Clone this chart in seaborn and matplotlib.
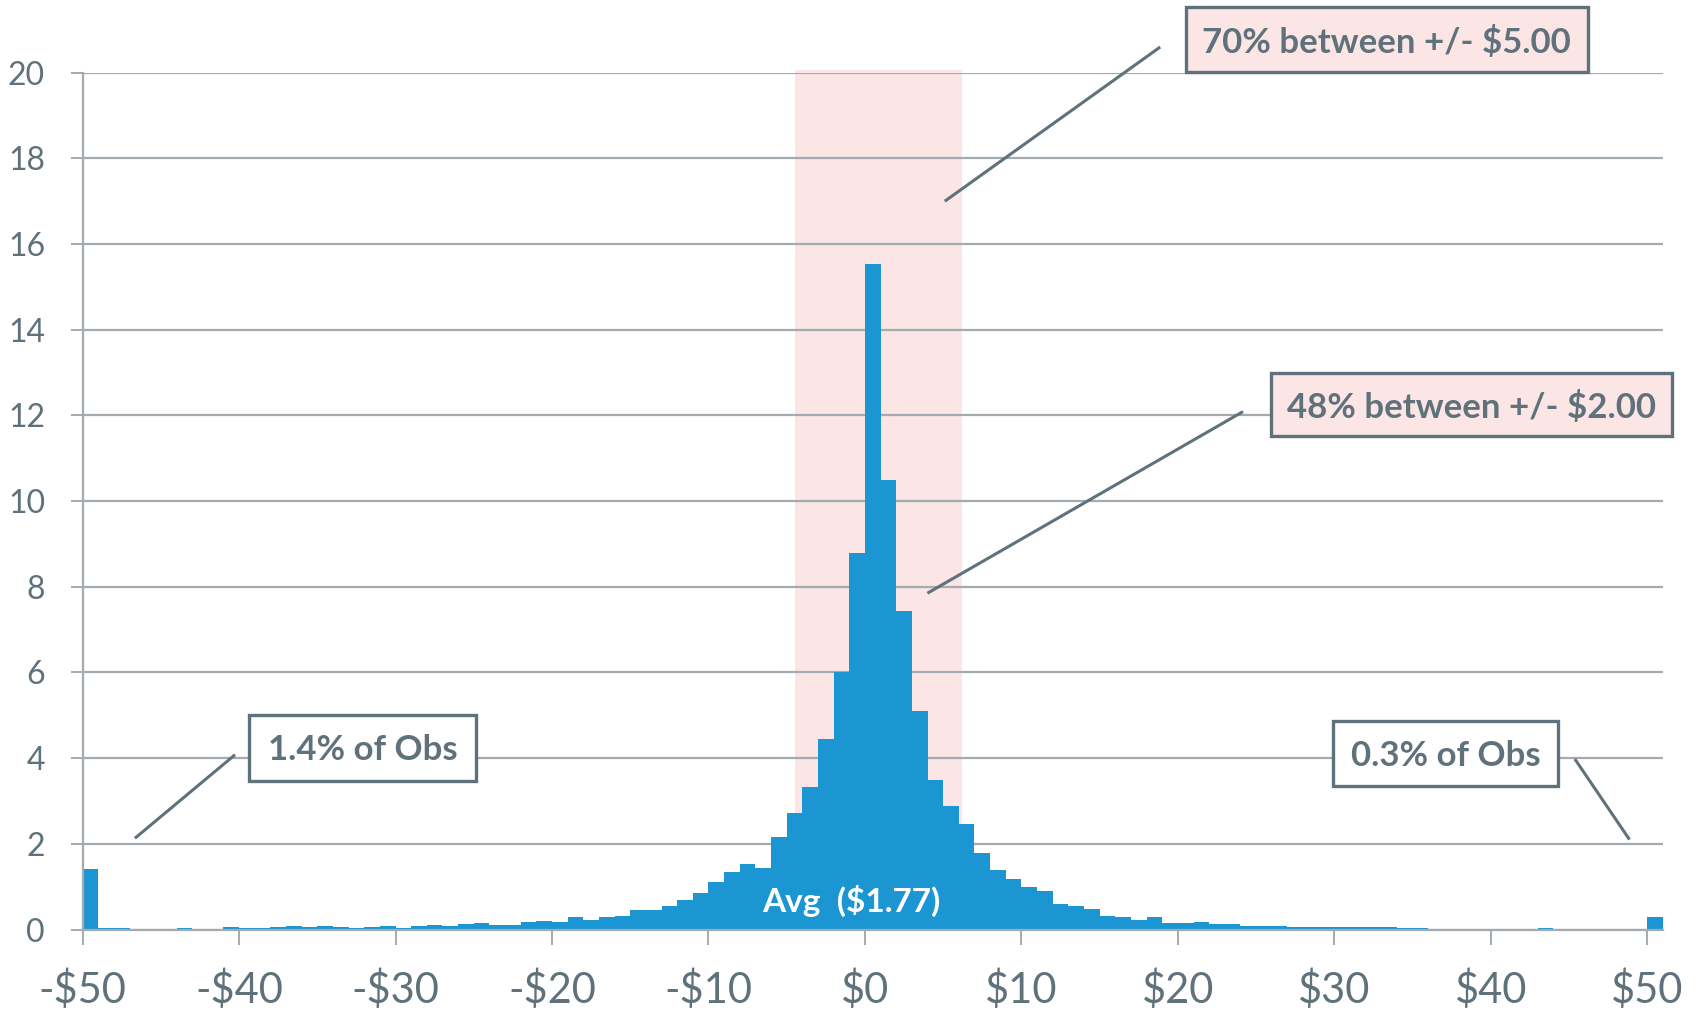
import numpy as np
import pandas as pd
import matplotlib
matplotlib.use("Agg")
import matplotlib.pyplot as plt
from matplotlib.patches import Rectangle
import seaborn as sns

# Share of observations (%) per $1 bin, bins start at -$50 ... $50
bin_starts = list(range(-50, 51))
pct_obs = [
    1.41, 0.04, 0.04, 0.02, 0.01, 0.02, 0.04, 0.01, 0.02, 0.06,   # -50 .. -41
    0.04, 0.04, 0.06, 0.08, 0.07, 0.08, 0.06, 0.04, 0.06, 0.08,   # -40 .. -31
    0.04, 0.08, 0.11, 0.09, 0.12, 0.16, 0.11, 0.10, 0.18, 0.20,   # -30 .. -21
    0.18, 0.29, 0.23, 0.29, 0.31, 0.46, 0.46, 0.55, 0.69, 0.85,   # -20 .. -11
    1.12, 1.34, 1.52, 1.44, 2.15, 2.71, 3.32, 4.45, 6.00, 8.80,   # -10 .. -1
    15.54, 10.49, 7.44, 5.11, 3.48, 2.89, 2.47, 1.79, 1.40, 1.17, # 0 .. 9
    0.99, 0.89, 0.60, 0.54, 0.48, 0.32, 0.30, 0.23, 0.30, 0.16,   # 10 .. 19
    0.16, 0.17, 0.13, 0.13, 0.09, 0.08, 0.09, 0.06, 0.05, 0.06,   # 20 .. 29
    0.06, 0.07, 0.05, 0.06, 0.04, 0.04, 0.01, 0.01, 0.01, 0.01,   # 30 .. 39
    0.01, 0.01, 0.01, 0.03, 0.01, 0.01, 0.01, 0.01, 0.01, 0.01,   # 40 .. 49
    0.30,                                                        # 50
]

x_ticks = [-50, -40, -30, -20, -10, 0, 10, 20, 30, 40, 50]
x_tick_labels = ["-$50", "-$40", "-$30", "-$20", "-$10", "$0",
                 "$10", "$20", "$30", "$40", "$50"]
y_ticks = [0, 2, 4, 6, 8, 10, 12, 14, 16, 18, 20]

band_range = (-4.49, 6.18)
avg_label = "Avg  ($1.77)"

BLUE = "#1b96d2"
PINK = "#fbe5e5"
SLATE = "#5f727b"
GRID = "#a3abb0"

sns.set_theme(style="white")
plt.rcParams["font.family"] = ["Lato", "DejaVu Sans"]

df = pd.DataFrame({"start": bin_starts, "pct": pct_obs})
df["mid"] = df["start"] + 0.5

fig = plt.figure(figsize=(17.07, 10.14), dpi=100)
ax = fig.add_axes([0.0484, 0.0833, 0.9258, 0.8450])

sns.histplot(data=df, x="mid", weights="pct", binwidth=1, binrange=(-50, 51),
             color=BLUE, alpha=1.0, linewidth=0, edgecolor=BLUE,
             ax=ax, zorder=2)

ax.set_xlim(-50, 51)
ax.set_ylim(0, 20)
ax.set_xlabel("")
ax.set_ylabel("")

# highlighted +/- range
ax.axvspan(band_range[0], band_range[1], ymin=0, ymax=20.06 / 20,
           facecolor=PINK, edgecolor="none", zorder=0.3, clip_on=False)

# gridlines and axes
ax.set_axisbelow(True)
ax.yaxis.grid(True, color=GRID, linewidth=1.6)
ax.xaxis.grid(False)
for side in ("top", "right"):
    ax.spines[side].set_visible(False)
for side in ("left", "bottom"):
    ax.spines[side].set_color(GRID)
    ax.spines[side].set_linewidth(1.6)

ax.set_xticks(x_ticks)
ax.set_xticklabels(x_tick_labels)
ax.set_yticks(y_ticks)
ax.tick_params(axis="x", direction="out", length=11, width=1.4, color=GRID,
               labelsize=30, labelcolor=SLATE, pad=18, bottom=True)
ax.tick_params(axis="y", direction="out", length=9, width=1.4, color=GRID,
               labelsize=23, labelcolor=SLATE, pad=18, left=True)


def callout(x0, x1, y0, y1, text, face, line):
    rect = Rectangle((x0, y0), x1 - x0, y1 - y0, facecolor=face,
                     edgecolor=SLATE, linewidth=2.4, zorder=5, clip_on=False)
    ax.add_patch(rect)
    ax.text((x0 + x1) / 2, (y0 + y1) / 2 - 0.06, text, ha="center",
            va="center", fontsize=25, fontweight="bold", color=SLATE,
            zorder=6, clip_on=False)
    (lx0, ly0), (lx1, ly1) = line
    ax.plot([lx0, lx1], [ly0, ly1], color=SLATE, linewidth=2.2,
            solid_capstyle="butt", zorder=4, clip_on=False)


callout(20.5, 46.2, 20.02, 21.53, "70% between +/- $5.00", PINK,
        ((18.87, 20.6), (5.1, 17.0)))
callout(25.97, 51.55, 11.51, 12.98, "48% between +/- $2.00", PINK,
        ((24.16, 12.09), (3.99, 7.85)))
callout(-39.37, -24.87, 3.47, 5.01, "1.4% of Obs", "white",
        ((-40.26, 4.08), (-46.66, 2.13)))
callout(29.93, 44.27, 3.35, 4.87, "0.3% of Obs", "white",
        ((45.37, 3.98), (48.86, 2.10)))

ax.text(-0.9, 0.66, avg_label, ha="center", va="center", fontsize=24,
        fontweight="bold", color="white", zorder=6)

fig.savefig("out.png", dpi=100)
